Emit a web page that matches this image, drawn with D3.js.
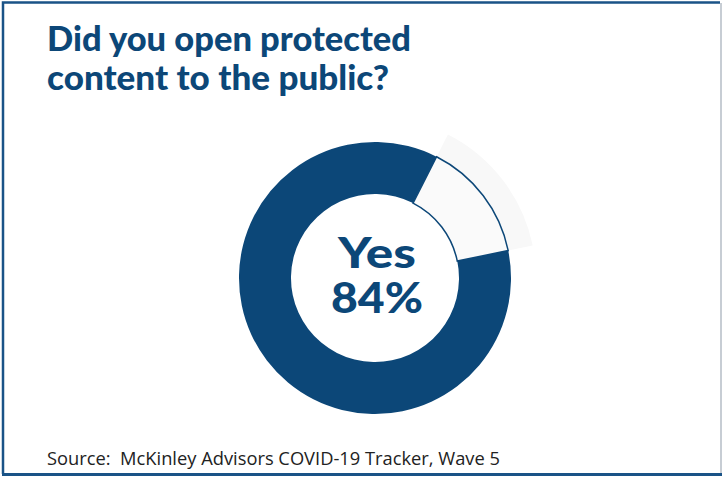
<html>
<script src='https://d3js.org/d3.v7.min.js'></script>
<body style="margin:0; background:#fff;">
<svg width=722 height=477></svg>
<script>

var categories = ["Yes", "No"];
var values = [84, 14];
var titleLines = ["Did you open protected", "content to the public?"];
var centerLabel = ["Yes", "84%"];
var source = "Source:  McKinley Advisors COVID-19 Tracker, Wave 5";

var blue = "#0c4778";
var light = "#fafafa";

var svg = d3.select('svg');

// frame
svg.append("path").attr("d", "M3,474 L3,2.5 L720,2.5").attr("fill", "none").attr("stroke", "#1a5387").attr("stroke-width", 2.5);
svg.append("line").attr("x1", 2).attr("x2", 722).attr("y1", 474.5).attr("y2", 474.5).attr("stroke", "#1a5387").attr("stroke-width", 3);
svg.append("line").attr("x1", 721).attr("x2", 721).attr("y1", 3).attr("y2", 473).attr("stroke", "#b4bcc6").attr("stroke-width", 1.5);

// title
svg.append("g").selectAll("text")
  .data(titleLines)
  .join("text")
    .attr("x", 47)
    .attr("y", (d, i) => 51 + i * 39)
    .attr("fill", blue)
    .attr("font-family", "Lato, 'Open Sans', sans-serif")
    .attr("font-weight", "900")
    .attr("font-size", "34px")
    .attr("textLength", (d, i) => i == 0 ? 364 : 342)
    .attr("lengthAdjust", "spacingAndGlyphs")
    .text(d => d);

// donut, the "No" slice sits between ~27 and ~78 degrees
var cx = 375, cy = 278;
var start = 0.47 - 2 * Math.PI * values[0] / d3.sum(values);
var pie = d3.pie().sort(null).startAngle(start).endAngle(start + 2 * Math.PI);
var arcs = pie(values);
var arc = d3.arc().innerRadius(84).outerRadius(136);
var shadow = d3.arc().innerRadius(84).outerRadius(161);

var g = svg.append("g").attr("transform", "translate(" + cx + "," + cy + ")");

g.append("path")
  .datum(arcs[1])
  .attr("d", shadow)
  .attr("fill", "#f8f8f8");

g.selectAll("path.slice")
  .data(arcs)
  .join("path")
    .attr("class", "slice")
    .attr("d", arc)
    .attr("fill", (d, i) => i == 0 ? blue : light)
    .attr("stroke", blue)
    .attr("stroke-width", (d, i) => i == 0 ? 0 : 1.5);

// center label
g.selectAll("text")
  .data(centerLabel)
  .join("text")
    .attr("x", 2)
    .attr("y", (d, i) => -10 + i * 45)
    .attr("text-anchor", "middle")
    .attr("fill", blue)
    .attr("font-family", "Lato, 'Open Sans', sans-serif")
    .attr("font-weight", "900")
    .attr("font-size", "42px")
    .attr("textLength", (d, i) => i == 0 ? 78 : 92)
    .attr("lengthAdjust", "spacingAndGlyphs")
    .text(d => d);

// source
svg.append("text")
  .attr("x", 47)
  .attr("y", 465)
  .attr("fill", "#222")
  .attr("font-family", "'Open Sans', sans-serif")
  .attr("font-size", "18px")
  .attr("textLength", 453)
  .attr("lengthAdjust", "spacingAndGlyphs")
  .style("white-space", "pre")
  .text(source);

</script>
</body>
</html>
